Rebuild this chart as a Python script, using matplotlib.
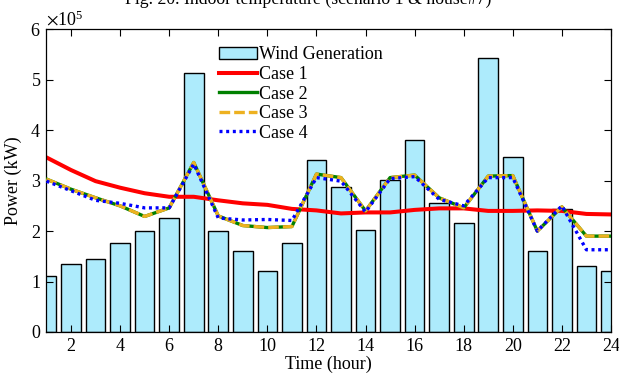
import matplotlib
matplotlib.use('Agg')
import matplotlib.pyplot as plt
from matplotlib.ticker import ScalarFormatter
import numpy as np

plt.rcParams['font.family'] = ['Liberation Serif', 'DejaVu Serif']
plt.rcParams['mathtext.fontset'] = 'stix'

# hourly values, in units of 1e5 kW
hours = list(range(1, 25))
wind = [1.10, 1.35, 1.45, 1.77, 2.00, 2.26, 5.14, 2.00, 1.60, 1.21, 1.76, 3.40,
        2.88, 2.02, 3.02, 3.80, 2.56, 2.17, 5.43, 3.47, 1.60, 2.44, 1.30, 1.21]
case1 = [3.46, 3.21, 2.99, 2.86, 2.75, 2.68, 2.68, 2.61, 2.55, 2.52, 2.44, 2.41,
         2.35, 2.37, 2.37, 2.42, 2.45, 2.45, 2.40, 2.40, 2.41, 2.40, 2.34, 2.33]
case2 = [3.03, 2.83, 2.66, 2.50, 2.29, 2.46, 3.36, 2.30, 2.11, 2.07, 2.09, 3.13,
         3.06, 2.40, 3.06, 3.11, 2.66, 2.46, 3.09, 3.10, 2.00, 2.48, 1.90, 1.90]
case3 = [3.03, 2.83, 2.66, 2.50, 2.29, 2.46, 3.36, 2.30, 2.11, 2.07, 2.09, 3.13,
         3.06, 2.40, 3.06, 3.11, 2.66, 2.46, 3.09, 3.10, 2.00, 2.48, 1.90, 1.90]
case4 = [2.99, 2.80, 2.61, 2.55, 2.46, 2.46, 3.33, 2.26, 2.22, 2.23, 2.21, 3.06,
         2.99, 2.38, 3.04, 3.08, 2.63, 2.50, 3.06, 3.06, 2.00, 2.50, 1.63, 1.63]
scale = 1e5

fig = plt.figure(figsize=(6.19, 3.77), dpi=100)
ax = fig.add_axes([0.0751, 0.1194, 0.987 - 0.0751, 0.9223 - 0.1194])

# caption of the figure above, cut off at the top edge
fig.text(0.498, 1 - 4.0 / 377, 'Fig. 20. Indoor temperature (scenario 1 & house#7)',
         ha='center', va='baseline', fontsize=12.8)

x = np.array(hours)
bars = ax.bar(x, np.array(wind) * scale, width=0.8, color='#ADEBFC', edgecolor='black',
              linewidth=1.0, label='Wind Generation', zorder=1)
l1, = ax.plot(x, np.array(case1) * scale, color='#FF0000', lw=2.9, label='Case 1', zorder=2)
l2, = ax.plot(x, np.array(case2) * scale, color='#008000', lw=2.4, label='Case 2', zorder=3)
l3, = ax.plot(x, np.array(case3) * scale, color='#EDB120', lw=2.4, ls=(0, (3.2, 1.2)),
              label='Case 3', zorder=4)
l4, = ax.plot(x, np.array(case4) * scale, color='#0000FF', lw=2.4, ls=(0, (0.9, 1.1)),
              label='Case 4', zorder=5)

ax.set_xlim(1, 24)
ax.set_ylim(0, 6e5)
ax.set_xticks(range(2, 25, 2))
ax.set_yticks(np.arange(0, 7) * 1e5)
fmt = ScalarFormatter(useMathText=True)
fmt.set_powerlimits((0, 0))
ax.yaxis.set_major_formatter(fmt)
ax.yaxis.get_offset_text().set_fontsize(13)

ax.tick_params(direction='in', top=True, right=True, length=5, width=0.8,
               labelsize=13, pad=4)
for s in ax.spines.values():
    s.set_linewidth(0.9)

ax.set_xlabel('Time (hour)', fontsize=13, labelpad=1)
ax.set_ylabel('Power (kW)', fontsize=13, labelpad=6)

ax.legend([bars, l1, l2, l3, l4], ['Wind Generation', 'Case 1', 'Case 2', 'Case 3', 'Case 4'],
          loc='upper left', bbox_to_anchor=(0.283, 0.985), frameon=False, fontsize=13,
          labelspacing=0.14, handlelength=2.1, handletextpad=0.15, borderpad=0.2)

fig.savefig('out.png', dpi=100)
